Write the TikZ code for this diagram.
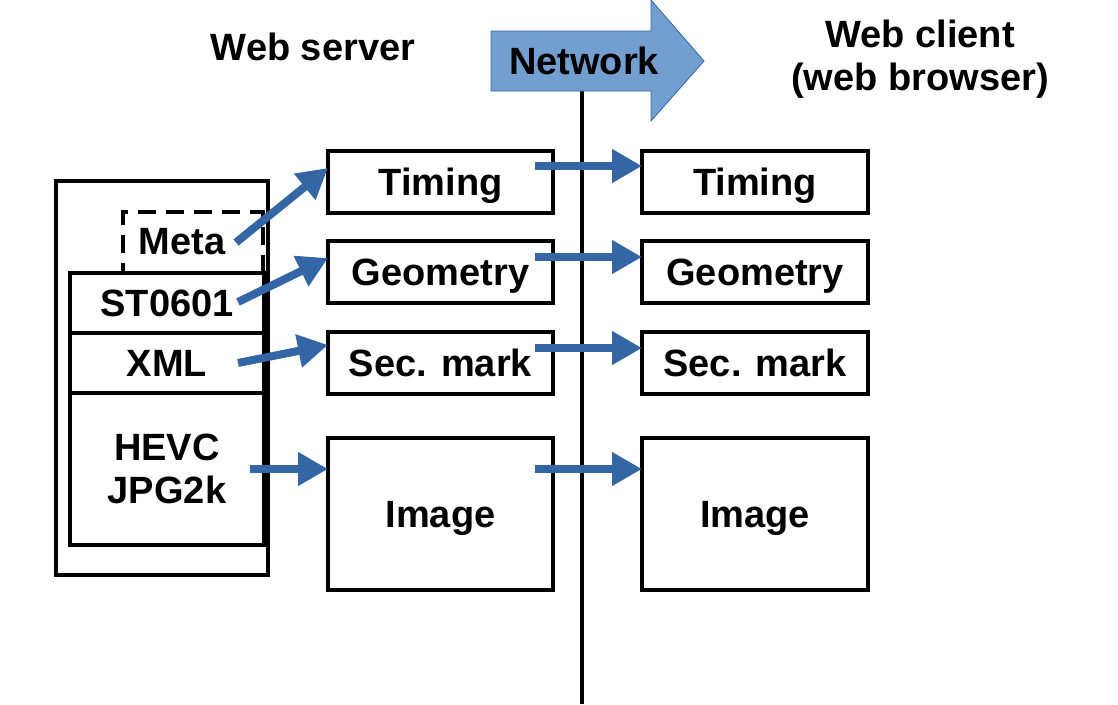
\documentclass[tikz,border=0pt]{standalone}
\usepackage{fontspec}
\setmainfont{Liberation Sans}
\usetikzlibrary{arrows.meta}
\definecolor{arrowblue}{HTML}{3465A4}
\definecolor{netfill}{HTML}{729FCF}
\begin{document}
\begin{tikzpicture}[x=1pt,y=-1pt,
  every node/.style={font=\bfseries\fontsize{38}{43}\selectfont, inner sep=0pt, outer sep=0pt},
  box/.style={draw=black, line width=4pt, minimum width=225pt, minimum height=62pt, text height=27pt, text depth=0pt},
  lbox/.style={draw=black, line width=4pt, minimum width=194pt, minimum height=60pt},
  flow/.style={draw=arrowblue, line width=8pt, -{Triangle[length=30pt,width=32pt]}},
  lbl/.style={align=center}
]
\useasboundingbox (0,0) rectangle (1118,704);

% headings
\node[lbl] (server) at (313,47) {Web server};
\node[lbl] (client) at (920,59) {Web client\\(web browser)};

% network divider
\coordinate (linetop) at (582,91);
\coordinate (linebot) at (582,704);
\draw[line width=4pt] (linetop) -- (linebot);
\draw[fill=netfill, draw=arrowblue, line width=0.8pt]
  (491,31) -- (651,31) -- (651,0) -- (704,61) -- (651,121) -- (651,91) -- (491,91) -- cycle;
\node (network) at (584,61) {Network};

% left container
\node[draw=black, line width=4pt, minimum width=212pt, minimum height=394pt] (container) at (162,378) {};
\node[draw=black, line width=4pt, dash pattern=on 18pt off 10pt, minimum width=140pt, minimum height=61pt] (meta) at (193,242.5) {};
\node (metatext) at (182,242) {Meta};
\node[lbox, fill=white] (st) at (167,303) {ST0601};
\node[lbox] (xml) at (167,363) {XML};
\node[lbox, minimum height=152pt, align=center] (hevc) at (167,469) {HEVC\\JPG2k};

% server side boxes
\node[box] (t1) at (440.5,182) {Timing};
\node[box] (g1) at (440.5,272) {Geometry};
\node[box] (s1) at (440.5,363) {Sec. mark};
\node[box, minimum height=152pt] (i1) at (440.5,514) {Image};

% client side boxes
\node[box, minimum width=226pt] (t2) at (755,182) {Timing};
\node[box, minimum width=226pt] (g2) at (755,272) {Geometry};
\node[box, minimum width=226pt] (s2) at (755,363) {Sec. mark};
\node[box, minimum width=226pt, minimum height=152pt] (i2) at (755,514) {Image};

% left arrows
\draw[flow] ([xshift=-27pt]meta.east) -- ([yshift=14pt]t1.west);
\draw[flow] ([xshift=-26pt,yshift=1pt]st.east) -- ([yshift=14pt]g1.west);
\draw[flow] ([xshift=-26pt]xml.east) -- ([yshift=18pt]s1.west);
\draw[flow] ([xshift=-14pt]hevc.east) -- (i1.west |- hevc.east);

% network arrows
\draw[flow] ([xshift=-18pt,yshift=16pt]t1.east) -- ([yshift=16pt]t2.west);
\draw[flow] ([xshift=-18pt,yshift=15pt]g1.east) -- ([yshift=15pt]g2.west);
\draw[flow] ([xshift=-18pt,yshift=15pt]s1.east) -- ([yshift=15pt]s2.west);
\draw[flow] ([xshift=-18pt,yshift=45pt]i1.east) -- ([yshift=45pt]i2.west);
\end{tikzpicture}
\end{document}
